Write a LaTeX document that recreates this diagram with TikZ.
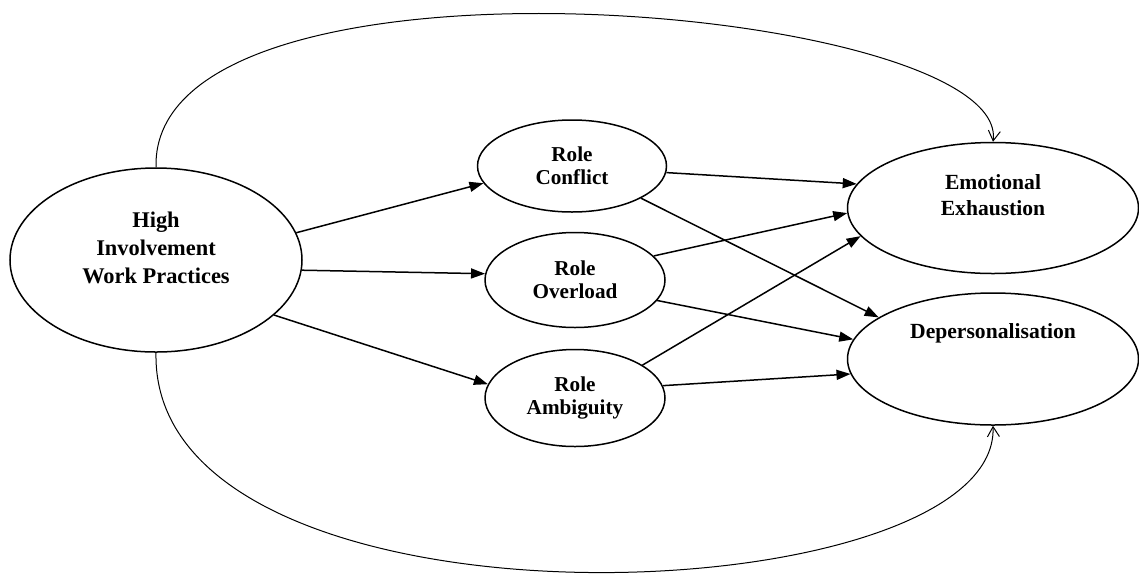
\documentclass[tikz,border=0pt]{standalone}
\usepackage{fontspec}
\setmainfont{Liberation Serif}
\usetikzlibrary{shapes.geometric}
\usetikzlibrary{arrows.meta}

\begin{document}
\begin{tikzpicture}[x=0.5pt,y=-0.5pt,
    factor/.style={ellipse,draw,line width=0.75pt,inner sep=0pt,align=center,
        font=\bfseries\fontsize{10.6}{11.5}\selectfont},
    inside/.style={align=center,font=\bfseries\fontsize{10.8}{13}\selectfont},
    path/.style={line width=0.75pt,-{Triangle[length=7pt,width=5pt]}},
    direct/.style={line width=0.5pt,-{Straight Barb[length=5pt,width=6pt]}}
]
\useasboundingbox (0,0) rectangle (1139,574);
\node[factor,minimum width=146pt,minimum height=92pt,
    label={[inside,yshift=6pt,font=\bfseries\fontsize{11.2}{14}\selectfont]center:High\\Involvement\\Work Practices}] (hiwp) at (156,260) {};
\node[factor,minimum width=94.5pt,minimum height=46pt] (conf) at (572,166) {Role\\Conflict};
\node[factor,minimum width=90pt,minimum height=47.5pt] (over) at (575,280) {Role\\Overload};
\node[factor,minimum width=90pt,minimum height=48.5pt] (ambi) at (575,398) {Role\\Ambiguity};
\node[factor,minimum width=145.5pt,minimum height=65.5pt,
    label={[inside,yshift=6.5pt]center:Emotional\\Exhaustion}] (emo) at (993,208) {};
\node[factor,minimum width=145.5pt,minimum height=66pt,
    label={[inside,yshift=13pt]center:Depersonalisation}] (dep) at (993,359) {};

\draw[path] (hiwp.11) -- (conf.191);
\draw[path] (hiwp.-4) -- (over.176);
\draw[path] (hiwp.-25) -- (ambi.171);
\draw[path] (conf.-4) -- (emo.170);
\draw[path] (conf.-25) -- (dep.160);
\draw[path] (over.17) -- (emo.182);
\draw[path] (over.-14) -- (dep.172);
\draw[path] (ambi.26) -- (emo.192);
\draw[path] (ambi.8) -- (dep.186);
\draw[direct] (hiwp.north) .. controls (150,-70) and (1010,5) .. (emo.north);
\draw[direct] (hiwp.south) .. controls (150,650) and (1000,616) .. (dep.south);
\end{tikzpicture}
\end{document}
